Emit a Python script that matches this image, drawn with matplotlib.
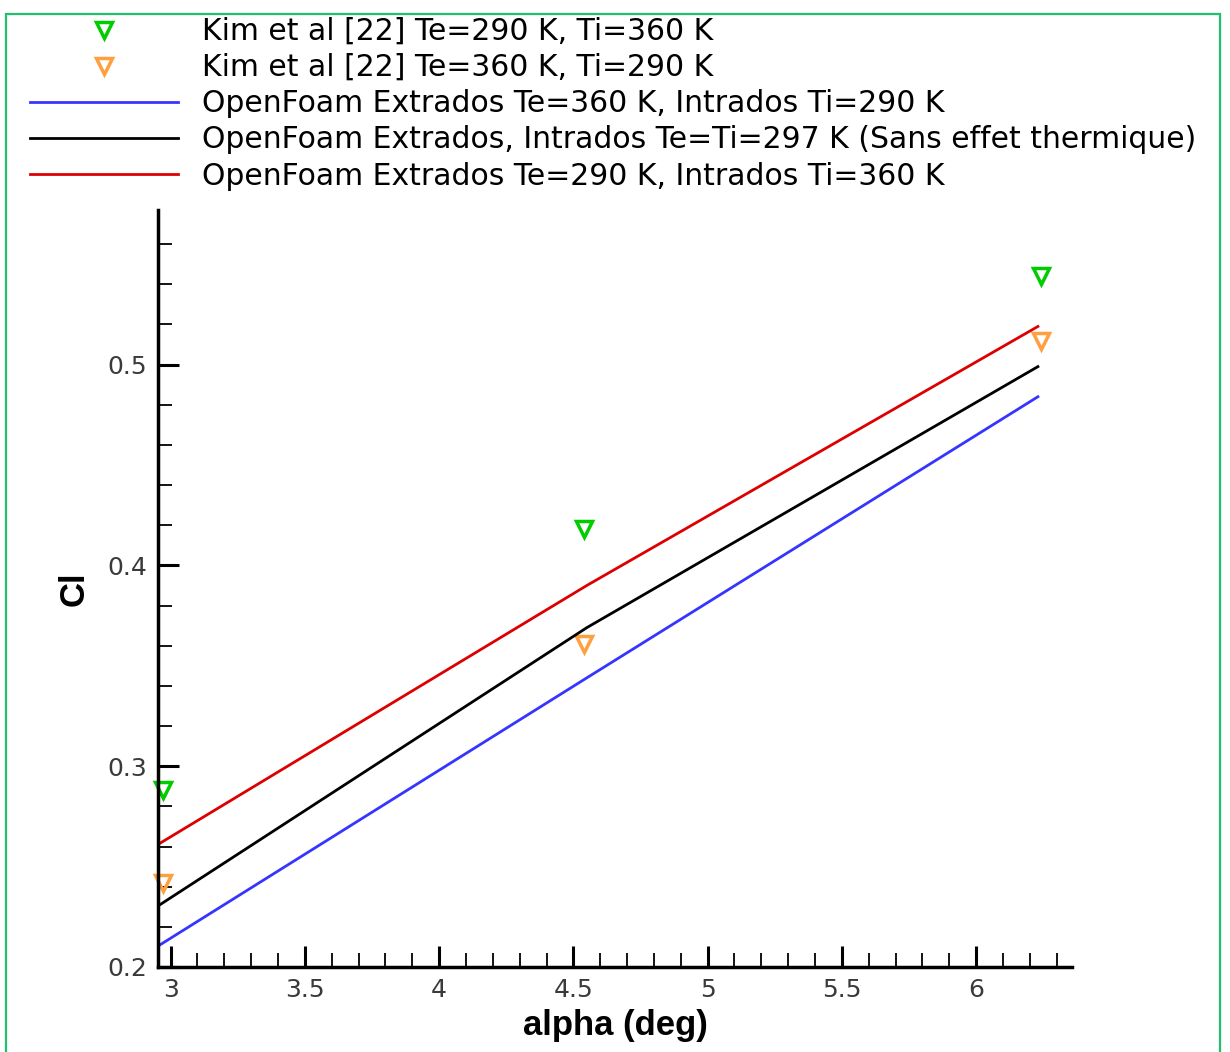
import matplotlib
matplotlib.use("Agg")
import matplotlib.pyplot as plt
from matplotlib.patches import Rectangle
from matplotlib.ticker import MultipleLocator, FuncFormatter

plt.rcParams['font.family'] = ['DejaVu Sans']

# experimental points (Kim et al)
alpha_kim = [2.97, 4.54, 6.24]
cl_kim_290_360 = [0.288, 0.418, 0.544]
cl_kim_360_290 = [0.242, 0.361, 0.512]

# OpenFoam runs
alpha_of = [2.96, 4.55, 6.23]
cl_of_360_290 = [0.211, 0.344, 0.484]
cl_of_297 = [0.231, 0.369, 0.499]
cl_of_290_360 = [0.2616, 0.390, 0.519]

labels = [
    "Kim et al [22] Te=290 K, Ti=360 K",
    "Kim et al [22] Te=360 K, Ti=290 K",
    "OpenFoam Extrados Te=360 K, Intrados Ti=290 K",
    "OpenFoam Extrados, Intrados Te=Ti=297 K (Sans effet thermique)",
    "OpenFoam Extrados Te=290 K, Intrados Ti=360 K",
]

W, H = 1230, 1052
fig = plt.figure(figsize=(W / 100, H / 100), dpi=100)
ax = fig.add_axes([158 / W, 1 - 967 / H, (1072 - 158) / W, (967 - 210) / H])

h1, = ax.plot(alpha_kim, cl_kim_290_360, ls='none', marker='v', ms=11,
              mfc='none', mec='#00cc00', mew=2.5, clip_on=False)
h2, = ax.plot(alpha_kim, cl_kim_360_290, ls='none', marker='v', ms=11,
              mfc='none', mec='#ffa040', mew=2.5, clip_on=False)
h3, = ax.plot(alpha_of, cl_of_360_290, color='#3535ff', lw=2)
h4, = ax.plot(alpha_of, cl_of_297, color='black', lw=2)
h5, = ax.plot(alpha_of, cl_of_290_360, color='#dd0000', lw=2)

ax.set_xlim(2.953, 6.357)
ax.set_ylim(0.2, 0.577)

for side in ['top', 'right']:
    ax.spines[side].set_visible(False)
for side in ['left', 'bottom']:
    ax.spines[side].set_linewidth(2.5)

ax.xaxis.set_major_locator(MultipleLocator(0.5))
ax.xaxis.set_minor_locator(MultipleLocator(0.1))
ax.yaxis.set_major_locator(MultipleLocator(0.1))
ax.yaxis.set_minor_locator(MultipleLocator(0.02))
ax.xaxis.set_major_formatter(FuncFormatter(lambda v, p: f"{v:g}"))
ax.yaxis.set_major_formatter(FuncFormatter(lambda v, p: f"{v:g}"))
ax.tick_params(which='both', direction='in', top=False, right=False)
ax.tick_params(which='major', length=15, width=2.2, labelsize=18,
               labelcolor='#3a3a3a', pad=8)
ax.tick_params(which='minor', length=10, width=1.3)

ax.set_xlabel("alpha (deg)", fontsize=25, fontweight='bold', labelpad=5,
              family='Liberation Sans')
ax.set_ylabel("Cl", fontsize=25, fontweight='bold', labelpad=12,
              family='Liberation Sans')

leg = fig.legend([h1, h2, h3, h4, h5], labels, loc='upper left',
                 bbox_to_anchor=(30 / W, 1 - 17 / H), frameon=False,
                 fontsize=21.5, handlelength=4.96, handletextpad=0.80,
                 labelspacing=0.24, borderpad=0, borderaxespad=0)

# green frame round the figure
fig.patches.append(Rectangle((6 / W, -0.05), (1220 - 6) / W, 1.05 - 14 / H,
                             transform=fig.transFigure, fill=False,
                             edgecolor='#22c06c', lw=1.6))

fig.savefig("out.png", dpi=100)
